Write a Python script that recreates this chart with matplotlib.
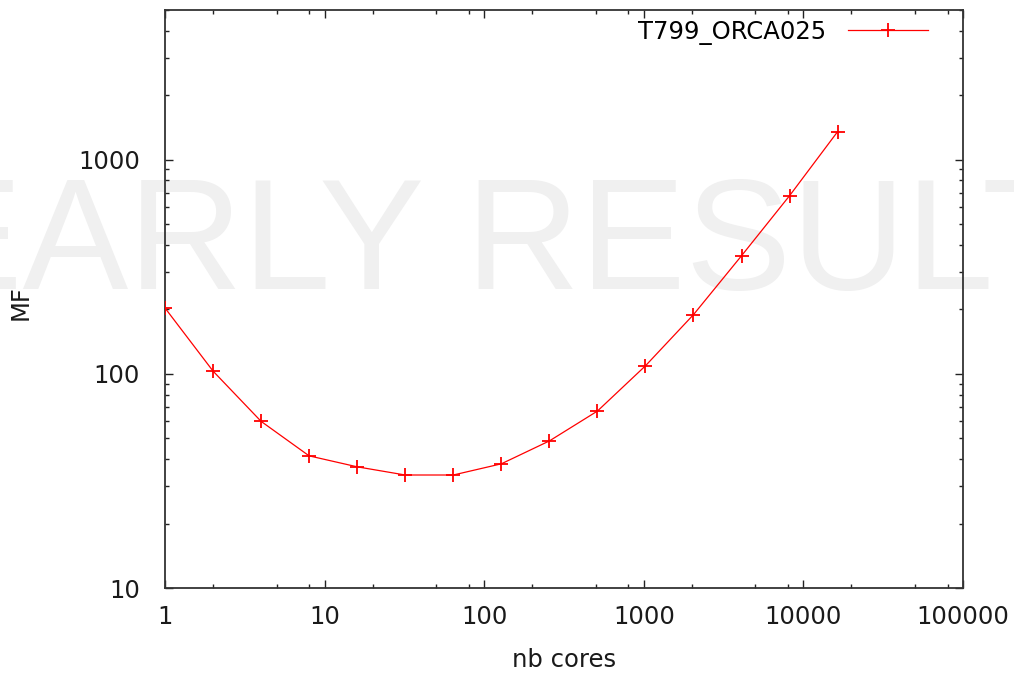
import matplotlib
matplotlib.use('Agg')
import matplotlib.pyplot as plt
from matplotlib.ticker import FixedLocator, LogLocator, NullFormatter

# data
cores = [1, 2, 4, 8, 16, 32, 64, 128, 256, 512, 1024, 2048, 4096, 8192, 16384]
mf = [203, 103, 60, 41.4, 36.8, 33.7, 33.7, 38, 48.6, 67, 109, 189, 356, 679, 1352]
series_name = 'T799_ORCA025'

x_ticks = [1, 10, 100, 1000, 10000, 100000]
y_ticks = [10, 100, 1000]

plt.rcParams['font.family'] = 'DejaVu Sans'
fs = 17.5
txt_color = '#1a1a1a'

fig = plt.figure(figsize=(10.14, 6.74), dpi=100)
ax = fig.add_axes([165 / 1014, 1 - 588 / 674, (963 - 165) / 1014, (588 - 10) / 674])

ax.plot(cores, mf, color='#ff0000', linewidth=0.9, marker='+',
        markersize=9.5, markeredgewidth=1.3, label=series_name, zorder=3)

ax.set_xscale('log')
ax.set_yscale('log')
ax.set_xlim(1, 100000)
ax.set_ylim(10, 5000)

ax.xaxis.set_major_locator(FixedLocator(x_ticks))
ax.set_xticklabels([str(t) for t in x_ticks])
ax.yaxis.set_major_locator(FixedLocator(y_ticks))
ax.set_yticklabels([str(t) for t in y_ticks])
ax.xaxis.set_minor_locator(LogLocator(base=10, subs=[2, 5, 8]))
ax.yaxis.set_minor_locator(LogLocator(base=10, subs=range(2, 10)))
ax.xaxis.set_minor_formatter(NullFormatter())
ax.yaxis.set_minor_formatter(NullFormatter())

ax.tick_params(which='both', direction='in', top=True, right=True,
               color='#222222', width=1.0, labelsize=fs, labelcolor=txt_color)
ax.tick_params(which='major', length=6)
ax.tick_params(which='minor', length=3)
ax.tick_params(axis='x', pad=12)
ax.tick_params(axis='y', pad=18)

for sp in ax.spines.values():
    sp.set_color('#333333')
    sp.set_linewidth(1.3)

ax.set_xlabel('nb cores', fontsize=fs, color=txt_color, labelpad=14)
ax.set_ylabel('MF', fontsize=fs, color=txt_color)
ax.yaxis.set_label_coords(-0.166, 0.493)

ax.legend(loc='upper right', bbox_to_anchor=(0.9687, 1.0), frameon=False,
          markerfirst=False, fontsize=fs, handlelength=3.3,
          handletextpad=0.9, borderaxespad=0)

# watermark across the plot
ax.text(551 / 1014, 1 - 289 / 674, 'EARLY RESULTS', transform=fig.transFigure,
        fontsize=114, family='Liberation Sans', color='#f0f0f0',
        ha='center', va='baseline', clip_on=False, zorder=1)

fig.savefig('out.png', dpi=100)
